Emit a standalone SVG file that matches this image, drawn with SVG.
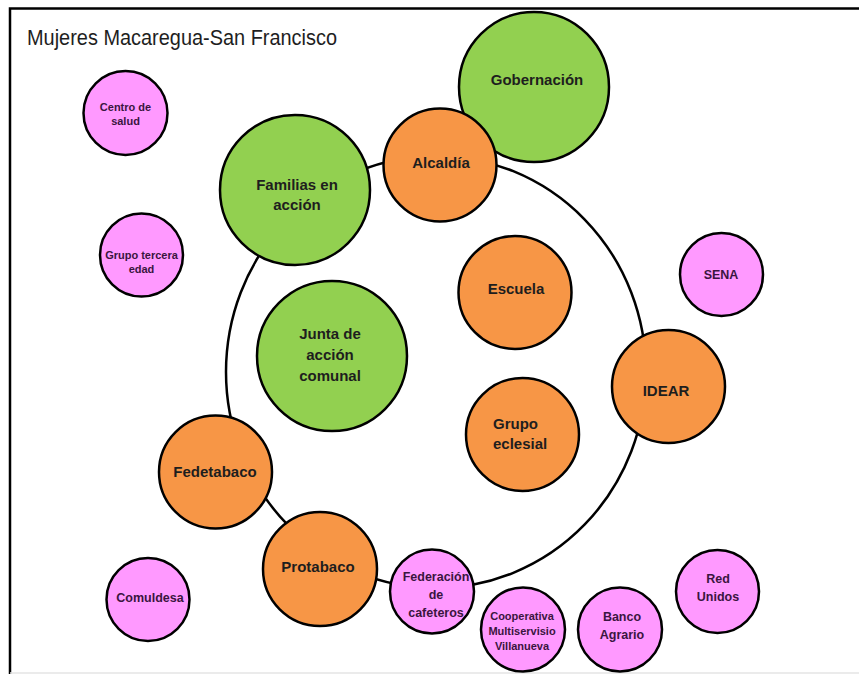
<svg xmlns="http://www.w3.org/2000/svg" width="859" height="674" viewBox="0 0 859 674">
<style>
.n{stroke:#000;stroke-width:2.5}
.g{fill:#92d050}
.o{fill:#f79646}
.p{fill:#ff99ff}
text{font-family:"Liberation Sans",Arial,sans-serif;font-weight:bold;text-anchor:middle}
.tl{fill:#1e1e1e;font-size:15px}
.ts{fill:#3a1540;font-size:11px}
.tm{fill:#3a1540;font-size:12.5px}
</style>
<rect x="0" y="0" width="859" height="674" fill="#fff"/>
<path d="M10 674 V8.5 H859" fill="none" stroke="#000" stroke-width="2.5"/>
<line x1="10" y1="673" x2="859" y2="673" stroke="#e4e4e4" stroke-width="1.5"/>
<text x="27" y="45" style="font-weight:normal;text-anchor:start;font-size:22px;fill:#1e1e1e" textLength="310" lengthAdjust="spacingAndGlyphs">Mujeres Macaregua-San Francisco</text>
<g id="connectors">
<ellipse cx="436" cy="372" rx="210" ry="216" fill="none" stroke="#000" stroke-width="2.5"/>
</g>
<g id="centro-salud"><circle class="n p" cx="125.5" cy="113" r="42"/><text class="ts" x="125.5" y="111">Centro de</text><text class="ts" x="125.5" y="125">salud</text></g>
<g id="grupo-tercera-edad"><circle class="n p" cx="141.5" cy="255" r="41.5"/><text class="ts" x="141.5" y="259">Grupo tercera</text><text class="ts" x="141.5" y="273">edad</text></g>
<g id="gobernacion"><circle class="n g" cx="534" cy="87" r="75"/><text class="tl" x="537" y="85">Gobernación</text></g>
<g id="familias"><circle class="n g" cx="295" cy="190" r="75"/><text class="tl" x="297" y="190">Familias en</text><text class="tl" x="297" y="210">acción</text></g>
<g id="alcaldia"><circle class="n o" cx="440" cy="165" r="56.5"/><text class="tl" x="441" y="168">Alcaldía</text></g>
<g id="junta"><circle class="n g" cx="332" cy="356" r="75"/><text class="tl" x="330" y="339">Junta de</text><text class="tl" x="330" y="360">acción</text><text class="tl" x="330" y="381">comunal</text></g>
<g id="escuela"><circle class="n o" cx="515" cy="292.5" r="56.5"/><text class="tl" x="516" y="294">Escuela</text></g>
<g id="sena"><circle class="n p" cx="721.5" cy="274.5" r="41.5"/><text class="tm" x="721" y="279">SENA</text></g>
<g id="idear"><circle class="n o" cx="668.5" cy="386.5" r="56.5"/><text class="tl" x="666" y="396">IDEAR</text></g>
<g id="grupo-eclesial"><circle class="n o" cx="522.5" cy="434.5" r="56.5"/><text class="tl" x="493" y="429" style="text-anchor:start">Grupo</text><text class="tl" x="493" y="449" style="text-anchor:start">eclesial</text></g>
<g id="fedetabaco"><circle class="n o" cx="215.5" cy="472" r="56.5"/><text class="tl" x="215" y="477">Fedetabaco</text></g>
<g id="protabaco"><circle class="n o" cx="320" cy="569" r="57"/><text class="tl" x="318" y="572">Protabaco</text></g>
<g id="comuldesa"><circle class="n p" cx="148" cy="599.5" r="41.5"/><text class="tm" x="150" y="602">Comuldesa</text></g>
<g id="federacion"><circle class="n p" cx="432" cy="591.5" r="42"/><text class="tm" x="436" y="581">Federación</text><text class="tm" x="436" y="599">de</text><text class="tm" x="436" y="617">cafeteros</text></g>
<g id="cooperativa"><circle class="n p" cx="523" cy="629.5" r="42"/><text class="ts" x="522" y="620">Cooperativa</text><text class="ts" x="522" y="635">Multiservisio</text><text class="ts" x="522" y="650">Villanueva</text></g>
<g id="banco-agrario"><circle class="n p" cx="620" cy="629.5" r="42"/><text class="tm" x="622" y="621">Banco</text><text class="tm" x="622" y="639">Agrario</text></g>
<g id="red-unidos"><circle class="n p" cx="717.5" cy="591.5" r="41.5"/><text class="tm" x="718" y="583">Red</text><text class="tm" x="718" y="601">Unidos</text></g>
</svg>
